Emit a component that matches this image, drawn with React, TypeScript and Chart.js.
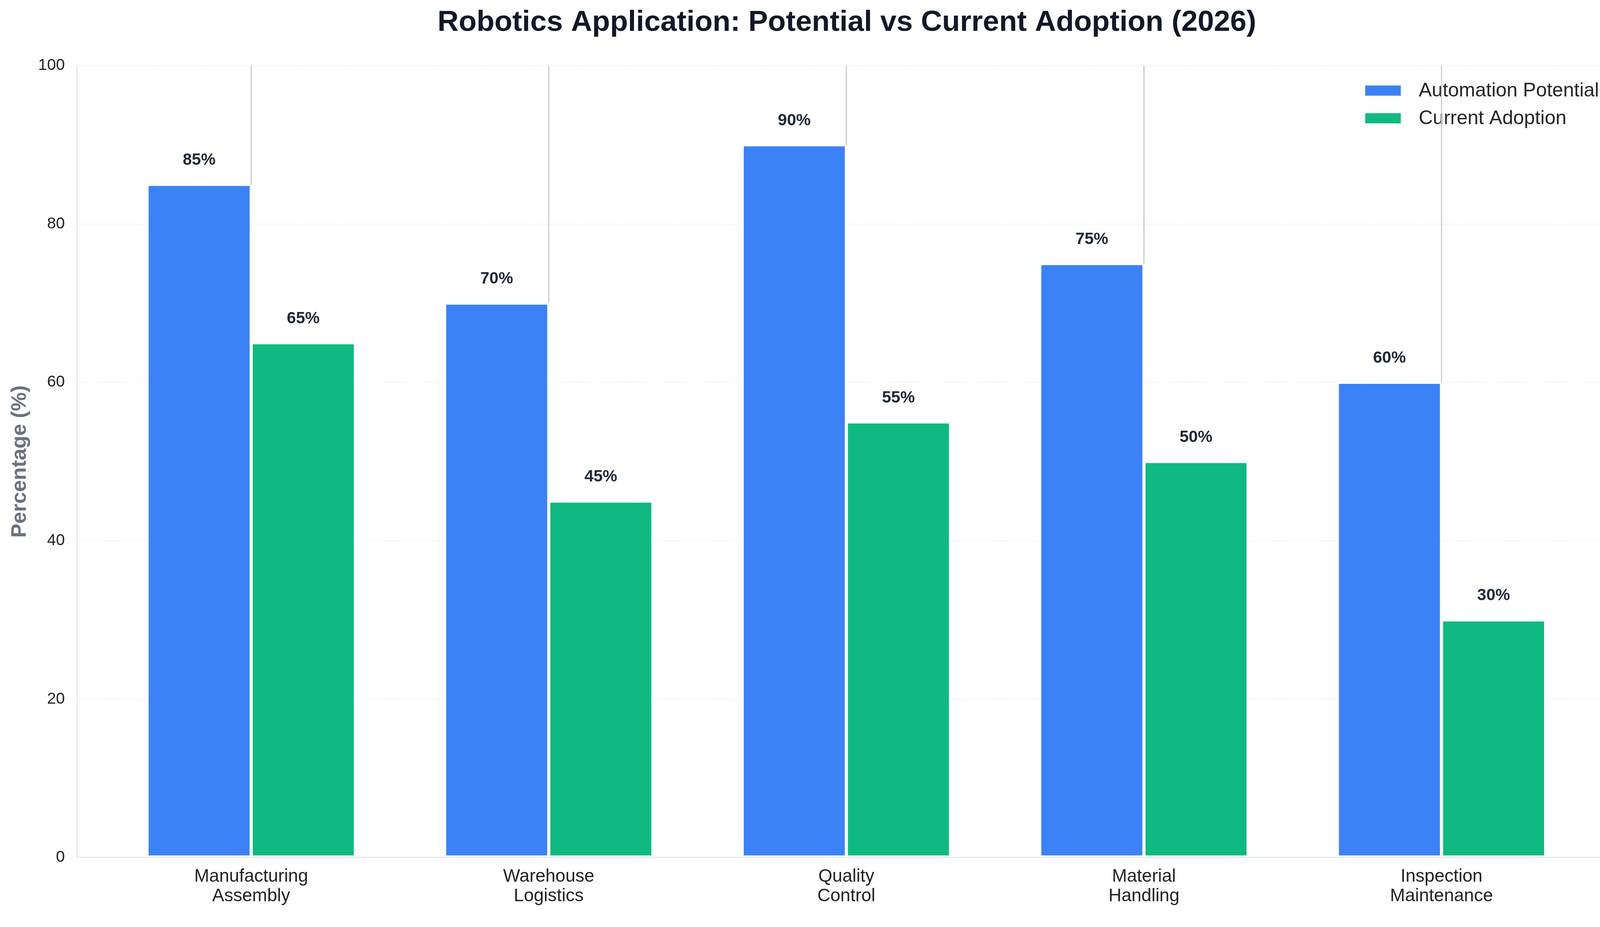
import React, { useEffect, useRef } from 'react';
import { Chart, registerables } from 'chart.js';

Chart.register(...registerables);

const FONT = '"Liberation Sans", Arial, Helvetica, sans-serif';

const TITLE = 'Robotics Application: Potential vs Current Adoption (2026)';
const Y_TITLE = 'Percentage (%)';
const CATEGORIES = [
  'Manufacturing Assembly',
  'Warehouse Logistics',
  'Quality Control',
  'Material Handling',
  'Inspection Maintenance',
];
const X_TICK_LABELS = [
  ['Manufacturing', 'Assembly'],
  ['Warehouse', 'Logistics'],
  ['Quality', 'Control'],
  ['Material', 'Handling'],
  ['Inspection', 'Maintenance'],
];
const SERIES_LABELS = ['Automation Potential', 'Current Adoption'];
const AUTOMATION_POTENTIAL = [85, 70, 90, 75, 60];
const CURRENT_ADOPTION = [65, 45, 55, 50, 30];
const Y_MIN = 0;
const Y_MAX = 100;
const Y_STEP = 20;
const GAP_TOP = 100;

const COLORS = ['#3b82f6', '#10b981'];

const valueLabelsPlugin = {
  id: 'valueLabels',
  afterDatasetsDraw(chart: any) {
    const { ctx } = chart;
    const yScale = chart.scales.y;
    ctx.save();
    ctx.font = `bold 42px ${FONT}`;
    ctx.fillStyle = '#1f2937';
    ctx.textAlign = 'center';
    ctx.textBaseline = 'bottom';
    chart.data.datasets.forEach((ds: any, di: number) => {
      const meta = chart.getDatasetMeta(di);
      meta.data.forEach((el: any, i: number) => {
        const v = ds.data[i].y;
        ctx.fillText(`${v}%`, el.x, yScale.getPixelForValue(v + 2));
      });
    });
    ctx.restore();
  },
};

const customLegendPlugin = {
  id: 'customLegend',
  afterDatasetsDraw(chart: any) {
    const { ctx, chartArea } = chart;
    ctx.save();
    ctx.font = `50px ${FONT}`;
    ctx.textAlign = 'left';
    ctx.textBaseline = 'middle';
    chart.data.datasets.forEach((ds: any, di: number) => {
      const cy = chartArea.top + 64 + di * 71;
      const bx = chartArea.right - 644;
      ctx.fillStyle = ds.backgroundColor;
      ctx.fillRect(bx, cy - 13, 91, 26);
      ctx.fillStyle = '#262626';
      ctx.fillText(ds.label, chartArea.right - 507, cy + 1);
    });
    ctx.restore();
  },
};

const gapLinesPlugin = {
  id: 'gapLines',
  afterDraw(chart: any) {
    const { ctx } = chart;
    const xs = chart.scales.x;
    const ys = chart.scales.y;
    ctx.save();
    ctx.strokeStyle = '#cccccc';
    ctx.lineWidth = 3;
    AUTOMATION_POTENTIAL.forEach((v, i) => {
      const x = xs.getPixelForValue(i);
      ctx.beginPath();
      ctx.moveTo(x, ys.getPixelForValue(v));
      ctx.lineTo(x, ys.getPixelForValue(GAP_TOP));
      ctx.stroke();
    });
    ctx.restore();
  },
};

export default function App() {
  const canvasRef = useRef<HTMLCanvasElement | null>(null);

  useEffect(() => {
    if (!canvasRef.current) return;
    Chart.defaults.font.family = FONT;
    const chart = new Chart(canvasRef.current, {
      type: 'bar',
      data: {
        datasets: [
          {
            label: SERIES_LABELS[0],
            data: AUTOMATION_POTENTIAL.map((v, i) => ({ x: i, y: v })),
            backgroundColor: COLORS[0],
            borderColor: '#ffffff',
            borderWidth: 4,
            borderSkipped: false,
            categoryPercentage: 0.7,
            barPercentage: 1.0,
          },
          {
            label: SERIES_LABELS[1],
            data: CURRENT_ADOPTION.map((v, i) => ({ x: i, y: v })),
            backgroundColor: COLORS[1],
            borderColor: '#ffffff',
            borderWidth: 4,
            borderSkipped: false,
            categoryPercentage: 0.7,
            barPercentage: 1.0,
          },
        ],
      } as any,
      options: {
        responsive: false,
        animation: false,
        devicePixelRatio: 1,
        layout: { padding: { top: 0, left: 0, right: 28, bottom: 29 } },
        plugins: {
          legend: { display: false },
          tooltip: { enabled: false },
          title: {
            display: true,
            text: TITLE,
            fullSize: false,
            align: 'center',
            color: '#111827',
            font: { size: 75, weight: 'bold', family: FONT, lineHeight: 1.2 },
            padding: { top: 13, bottom: 65 },
          },
        },
        scales: {
          x: {
            type: 'linear',
            min: -0.5855,
            max: CATEGORIES.length - 1 + 0.589,
            bounds: 'data',
            offset: false,
            grid: { display: false, drawTicks: false },
            border: { display: true, color: '#e5e7eb', width: 3 },
            afterBuildTicks: (axis: any) => {
              axis.ticks = CATEGORIES.map((_, i) => ({ value: i }));
            },
            ticks: {
              autoSkip: false,
              maxRotation: 0,
              minRotation: 0,
              padding: 24,
              color: '#222222',
              font: { size: 46, family: FONT, lineHeight: 1.1 },
              callback: (v: any) => X_TICK_LABELS[v] ?? '',
            },
          },
          y: {
            min: Y_MIN,
            max: Y_MAX,
            ticks: {
              stepSize: Y_STEP,
              padding: 31,
              color: '#222222',
              font: { size: 41, family: FONT },
            },
            grid: { color: 'rgba(229,231,235,0.6)', lineWidth: 2, drawTicks: false },
            border: { display: true, color: '#e5e7eb', width: 3, dash: [7.5, 3.7] },
            title: {
              display: true,
              text: Y_TITLE,
              color: '#6b7280',
              font: { size: 54, weight: 'bold', family: FONT, lineHeight: 1.2 },
              padding: { top: 18.6, bottom: 0 },
            },
            afterFit: (s: any) => {
              s.width = 197;
            },
          },
        },
      } as any,
      plugins: [valueLabelsPlugin, customLegendPlugin, gapLinesPlugin],
    });
    return () => chart.destroy();
  }, []);

  return (
    <div style={{ position: 'fixed', left: 0, top: 0, width: 4167, height: 2374, background: '#ffffff' }}>
      <canvas ref={canvasRef} width={4167} height={2374} style={{ display: 'block' }} />
    </div>
  );
}
